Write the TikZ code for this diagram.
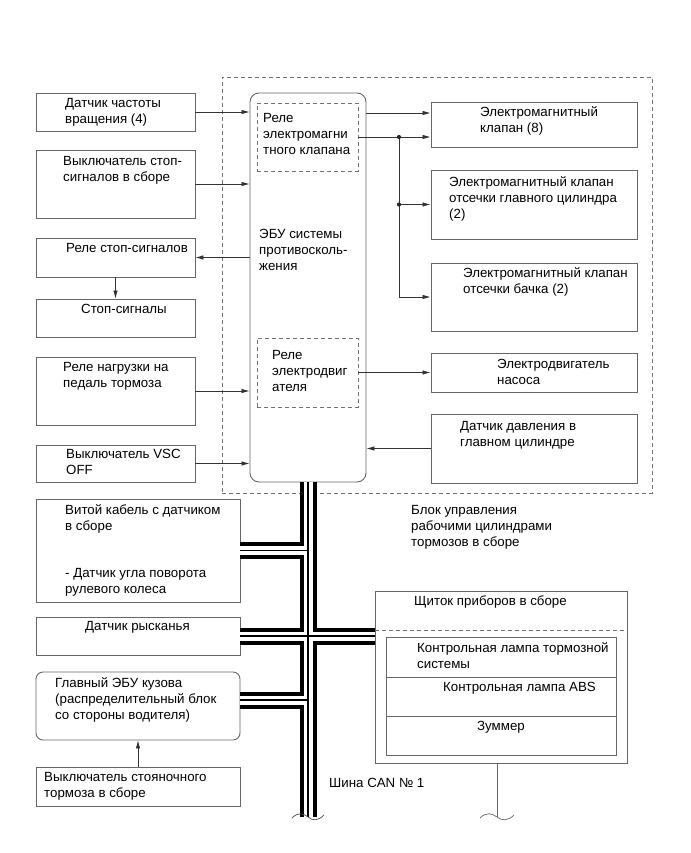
\documentclass[tikz,border=0pt]{standalone}
\usepackage{fontspec}
\setmainfont{Liberation Sans}
\usetikzlibrary{arrows.meta,calc}
\newcommand\lblfont{\fontsize{13.3}{16}\selectfont}
\begin{document}
\begin{tikzpicture}[x=1pt,y=-1pt,
  box/.style={draw=black!60, line width=0.9pt, inner sep=0pt},
  rbox/.style={box, rounded corners=7pt},
  dbox/.style={draw=black!55, line width=0.8pt, inner sep=0pt, dash pattern=on 4pt off 3pt},
  lbl/.style={anchor=north west, inner sep=0pt, align=left, font=\lblfont},
  conn/.style={draw=black!80, line width=0.7pt},
  arr/.style={conn, -{Latex[length=8pt,width=4.5pt]}}]
\useasboundingbox (0,0) rectangle (690,853);
% outer dashed block
\node[dbox, minimum width=430, minimum height=416] (blk) at (437,285) {};
% left boxes
\node[box, minimum width=159, minimum height=38] (n1) at (115.5,112) {};
\node[box, minimum width=159, minimum height=68] (n2) at (115.5,184) {};
\node[box, minimum width=159, minimum height=39] (n3) at (115.5,257.5) {};
\node[box, minimum width=159, minimum height=38] (n4) at (115.5,318) {};
\node[box, minimum width=159, minimum height=68] (n5) at (115.5,391) {};
\node[box, minimum width=159, minimum height=37] (n6) at (115.5,463.5) {};
% ECU
\node[rbox, rounded corners=9pt, minimum width=116, minimum height=389] (ecu) at (308,287.5) {};
\node[dbox, minimum width=101, minimum height=68] (rel1) at (307.5,137) {};
\node[dbox, minimum width=101, minimum height=69] (rel2) at (307.5,372.5) {};
% right boxes
\node[box, minimum width=206, minimum height=45] (R1) at (534,124.5) {};
\node[box, minimum width=206, minimum height=69] (R2) at (534,204.5) {};
\node[box, minimum width=206, minimum height=68] (R3) at (534,297) {};
\node[box, minimum width=206, minimum height=39] (R4) at (534,372.5) {};
\node[box, minimum width=206, minimum height=69] (R5) at (534,448.5) {};
% lower boxes
\node[box, minimum width=204, minimum height=103] (cab) at (138,550.5) {};
\node[box, minimum width=204, minimum height=38] (yaw) at (138,636) {};
\node[rbox, minimum width=204, minimum height=68] (bdy) at (138,706) {};
\node[box, minimum width=204, minimum height=39] (pkb) at (138,786.5) {};
\node[box, minimum width=252, minimum height=172] (clu) at (501,677) {};
\node[box, minimum width=230, minimum height=118] (lamps) at (501,696) {};
\draw[box] (lamps.west |- 0,677) -- (lamps.east |- 0,677);
\draw[box] (lamps.west |- 0,716) -- (lamps.east |- 0,716);
\draw[dbox] (clu.west |- 0,630) -- (clu.east |- 0,630);

% texts
\node[lbl] (t1) at (65,96) {\strut Датчик частоты\\вращения (4)};
\node[lbl] (t2) at (63,154) {\strut Выключатель стоп-\\сигналов в сборе};
\node[lbl] (t3) at (66,241) {\strut Реле стоп-сигналов};
\node[lbl] (t4) at (81,302) {\strut Стоп-сигналы};
\node[lbl] (t5) at (63,360) {\strut Реле нагрузки на\\педаль тормоза};
\node[lbl] (t6) at (66,447) {\strut Выключатель VSC\\OFF};
\node[lbl] (tr1) at (263,111) {\strut Реле\\электромагни\\тного клапана};
\node[lbl] (tecu) at (259,227) {\strut ЭБУ системы\\противосколь-\\жения};
\node[lbl] (tr2) at (272,348) {\strut Реле\\электродвиг\\ателя};
\node[lbl] (tR1) at (480,105) {\strut Электромагнитный\\клапан (8)};
\node[lbl] (tR2) at (449,175) {\strut Электромагнитный клапан\\отсечки главного цилиндра\\(2)};
\node[lbl] (tR3) at (463,266) {\strut Электромагнитный клапан\\отсечки бачка (2)};
\node[lbl] (tR4) at (497,357) {\strut Электродвигатель\\насоса};
\node[lbl] (tR5) at (460,419) {\strut Датчик давления в\\главном цилиндре};
\node[lbl] (tblk) at (411,503) {\strut Блок управления\\рабочими цилиндрами\\тормозов в сборе};
\node[lbl] (tcab) at (65,503) {\strut Витой кабель с датчиком\\в сборе};
\node[lbl] (tcab2) at (65,566) {\strut - Датчик угла поворота\\рулевого колеса};
\node[lbl] (tyaw) at (85,619) {\strut Датчик рысканья};
\node[lbl] (tbdy) at (55,676) {\strut Главный ЭБУ кузова\\(распределительный блок\\со стороны водителя)};
\node[lbl] (tpkb) at (44,770) {\strut Выключатель стояночного\\тормоза в сборе};
\node[lbl] (tclu) at (414,594) {\strut Щиток приборов в сборе};
\node[lbl] (tl1) at (417,641) {\strut Контрольная лампа тормозной\\системы};
\node[lbl] (tl2) at (443,680) {\strut Контрольная лампа ABS};
\node[lbl] (tl3) at (477,719) {\strut Зуммер};
\node[lbl] (tcan) at (329,776) {\strut Шина CAN № 1};

% connectors left
\draw[arr] (n1.east) -- (n1.east -| ecu.west);
\draw[arr] (n2.east) -- (n2.east -| ecu.west);
\draw[arr] (n3.east -| ecu.west) -- (n3.east);
\draw[arr] (n3.south) -- (n4.north);
\draw[arr] (n5.east) -- (n5.east -| ecu.west);
\draw[arr] (n6.east) -- (n6.east -| ecu.west);
% connectors right
\coordinate (e1) at (ecu.east |- 0,113);
\draw[arr] (e1) -- (e1 -| R1.west);
\draw[arr] (rel1.east) -- (rel1.east -| R1.west);
\coordinate (j1) at (rel1.east -| 399,0);
\coordinate (j2) at (j1 |- R2.west);
\draw[arr] (j1) |- (R3.west);
\draw[arr] (j2) -- (R2.west);
\fill[black!85] (j1) circle (2.1);
\fill[black!85] (j2) circle (2.1);
\draw[arr] (rel2.east) -- (rel2.east -| R4.west);
\draw[arr] (R5.west) -- (R5.west -| ecu.east);
\draw[arr] (pkb.north) -- (bdy.south);

% CAN bus
\coordinate (b0) at (ecu.south);
\coordinate (b1) at (ecu.south |- 0,817);
\coordinate (bb) at ($(bdy.east)+(0,-6)$);
\foreach \w/\c in {17/black,9/white,1.1/black}{
  \draw[line width=\w pt, \c] (b0) -- (b1)
    (cab.east) -- (cab.east -| b0)
    (yaw.east) -- (yaw.east -| clu.west)
    (bb) -- (bb -| b0);
}
\draw[conn, black!70] (292,818) .. controls (298,812) and (303,813) .. (308,817) .. controls (313,821) and (318,821) .. (324,815);
% cluster lead
\coordinate (c0) at (clu.south -| 497,0);
\coordinate (c1) at (497,817);
\draw[conn, black!60] (c0) -- (c1);
\draw[conn, black!60] (480,818) .. controls (486,812) and (492,813) .. (497,817) .. controls (502,821) and (508,821) .. (514,815);
\end{tikzpicture}
\end{document}
